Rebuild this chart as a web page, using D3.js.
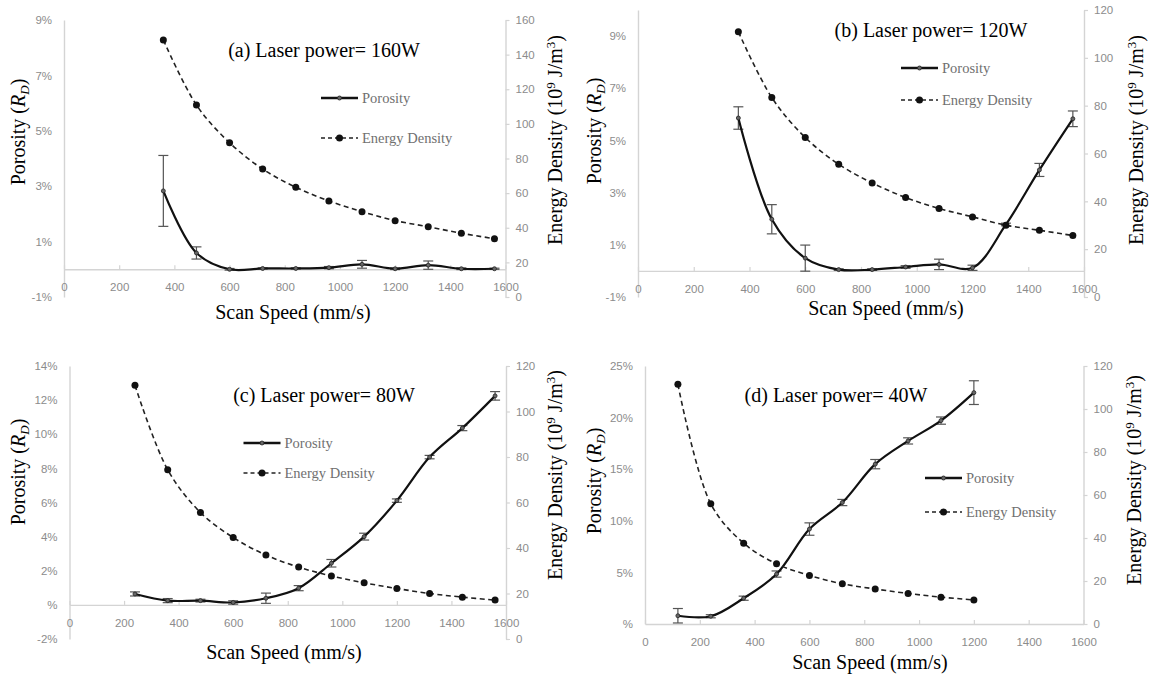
<!DOCTYPE html>
<html>
<head>
<meta charset="utf-8">
<script src="https://cdn.jsdelivr.net/npm/d3@7"></script>
<style>
  body { margin: 0; background: #fff; }
  svg { display: block; }
  .serif { font-family: "Liberation Serif", "Times New Roman", "DejaVu Serif", serif; }
  .sans { font-family: "Liberation Sans", Arial, sans-serif; }
</style>
</head>
<body>
<div class="canvas"></div>
<script>
const width = 1152;
const height = 675;

// scan speed ticks, shared by all four panels
const speedTicks = [0, 200, 400, 600, 800, 1000, 1200, 1400, 1600];

// (a) 160 W
const speedA = [360, 480, 600, 720, 840, 960, 1080, 1200, 1320, 1440, 1560];
const porosityA = [2.83, 0.59, 0.0, 0.03, 0.03, 0.06, 0.18, 0.02, 0.15, 0.02, 0.02];
const errA = [1.28, 0.22, 0.03, 0.02, 0.02, 0.04, 0.14, 0.03, 0.15, 0.03, 0.02];
const energyA = [148.5, 110.9, 89.1, 73.9, 63.4, 55.5, 49.3, 44.1, 40.6, 36.8, 33.7];
const pctTicksA = [-1, 1, 3, 5, 7, 9];
const energyTicksA = [0, 20, 40, 60, 80, 100, 120, 140, 160];

// (b) 120 W
const speedB = [360, 480, 600, 720, 840, 960, 1080, 1200, 1320, 1440, 1560];
const porosityB = [5.86, 1.98, 0.49, 0.05, 0.05, 0.15, 0.25, 0.12, 1.78, 3.87, 5.83];
const errB = [0.43, 0.56, 0.5, 0.03, 0.03, 0.05, 0.2, 0.1, 0.05, 0.25, 0.3];
const energyB = [110.9, 83.4, 66.7, 55.5, 47.7, 41.6, 37.0, 33.5, 30.0, 27.9, 25.7];
const pctTicksB = [-1, 1, 3, 5, 7, 9];
const energyTicksB = [0, 20, 40, 60, 80, 100, 120];

// (c) 80 W
const speedC = [240, 360, 480, 600, 720, 840, 960, 1080, 1200, 1320, 1440, 1560];
const porosityC = [0.64, 0.25, 0.25, 0.14, 0.39, 0.98, 2.44, 4.0, 6.11, 8.66, 10.36, 12.25];
const errC = [0.12, 0.12, 0.08, 0.1, 0.3, 0.15, 0.22, 0.2, 0.1, 0.1, 0.15, 0.25];
const energyC = [111.5, 74.4, 55.6, 44.6, 36.9, 31.6, 27.7, 24.7, 22.2, 20.0, 18.4, 17.1];
const pctTicksC = [-2, 0, 2, 4, 6, 8, 10, 12, 14];
const energyTicksC = [0, 20, 40, 60, 80, 100, 120];

// (d) 40 W
const speedD = [120, 240, 360, 480, 600, 720, 840, 960, 1080, 1200];
const porosityD = [0.8, 0.75, 2.5, 4.84, 9.2, 11.77, 15.49, 17.74, 19.71, 22.42];
const errD = [0.7, 0.15, 0.2, 0.3, 0.6, 0.3, 0.45, 0.3, 0.35, 1.15];
const energyD = [111.5, 55.9, 37.6, 28.0, 22.6, 18.7, 16.3, 14.2, 12.5, 11.2];
const pctTicksD = [0, 5, 10, 15, 20, 25];
const energyTicksD = [0, 20, 40, 60, 80, 100, 120];

const titles = ['(a) Laser power= 160W', '(b) Laser power= 120W', '(c) Laser power= 80W', '(d) Laser power= 40W'];

const axisGrey = '#d4d4d4';
const tickGrey = '#8c8c8c';

const panels = [
  { speed: speedA, porosity: porosityA, err: errA, energy: energyA, pTicks: pctTicksA, eTicks: energyTicksA,
    pDomain: [-1, 9], eDomain: [0, 160], x0: 64, x1: 505.5, yTop: 20, yBot: 297,
    title: titles[0], titleX: 324, titleY: 50, legX: 321, legY: [98, 138],
    xTitleX: 293, xTitleY: 312, pLabelX: 18, pLabelY: 132, eLabelX: 555, eLabelY: 140 },
  { speed: speedB, porosity: porosityB, err: errB, energy: energyB, pTicks: pctTicksB, eTicks: energyTicksB,
    pDomain: [-1, 10], eDomain: [0, 120], x0: 638, x1: 1084, yTop: 10, yBot: 297,
    title: titles[1], titleX: 931, titleY: 30, legX: 901, legY: [68, 100],
    xTitleX: 886, xTitleY: 308, pLabelX: 594, pLabelY: 131, eLabelX: 1136, eLabelY: 140 },
  { speed: speedC, porosity: porosityC, err: errC, energy: energyC, pTicks: pctTicksC, eTicks: energyTicksC,
    pDomain: [-2, 14], eDomain: [0, 120], x0: 69.5, x1: 506, yTop: 366, yBot: 639,
    title: titles[2], titleX: 324, titleY: 395, legX: 243.5, legY: [443, 473],
    xTitleX: 284, xTitleY: 652, pLabelX: 18, pLabelY: 472, eLabelX: 555, eLabelY: 475 },
  { speed: speedD, porosity: porosityD, err: errD, energy: energyD, pTicks: pctTicksD, eTicks: energyTicksD,
    pDomain: [0, 25], eDomain: [0, 120], x0: 645, x1: 1083.5, yTop: 366, yBot: 624,
    title: titles[3], titleX: 836, titleY: 395, legX: 925, legY: [478, 512],
    xTitleX: 870, xTitleY: 662, pLabelX: 594, pLabelY: 481, eLabelX: 1134, eLabelY: 480 }
];

const svg = d3
  .select('.canvas')
  .append('svg')
  .attr('width', width)
  .attr('height', height);

svg.append('rect').attr('width', width).attr('height', height).attr('fill', '#fff');

const pctFormat = (d) => (d === 0 ? '%' : d + '%');
const plainFormat = d3.format('d');

function styleAxis(g) {
  g.attr('font-family', null).attr('class', 'sans').style('font-size', '11.5px');
  g.select('.domain').attr('stroke', axisGrey).attr('stroke-width', 1.4);
  g.selectAll('.tick line').attr('stroke', axisGrey).attr('stroke-width', 1.2);
  g.selectAll('.tick text').attr('fill', tickGrey);
}

function drawPanel(cfg) {
  const x = d3.scaleLinear().domain([0, 1600]).range([cfg.x0, cfg.x1]);
  const yP = d3.scaleLinear().domain(cfg.pDomain).range([cfg.yBot, cfg.yTop]);
  const yE = d3.scaleLinear().domain(cfg.eDomain).range([cfg.yBot, cfg.yTop]);
  const g = svg.append('g');

  // Axes
  g.append('g')
    .attr('transform', `translate(${cfg.x0},0)`)
    .call(d3.axisLeft(yP).tickValues(cfg.pTicks).tickSize(0).tickPadding(12).tickFormat(pctFormat))
    .call(styleAxis);

  g.append('g')
    .attr('transform', `translate(${cfg.x1},0)`)
    .call(d3.axisRight(yE).tickValues(cfg.eTicks).tickSizeInner(4).tickSizeOuter(0).tickPadding(6).tickFormat(plainFormat))
    .call(styleAxis);

  g.append('g')
    .attr('transform', `translate(0,${yP(0)})`)
    .call(d3.axisBottom(x).tickValues(speedTicks).tickSizeInner(-4).tickSizeOuter(0).tickPadding(14).tickFormat(plainFormat))
    .call(styleAxis);

  const pts = cfg.speed.map((s, i) => ({ s, p: cfg.porosity[i], e: cfg.err[i], en: cfg.energy[i] }));

  // Porosity with error bars
  const bars = g.append('g').attr('stroke', '#555').attr('stroke-width', 1.2);
  pts.forEach((d) => {
    const cx = x(d.s);
    const top = yP(d.p + d.e);
    const bot = yP(d.p - d.e);
    bars.append('line').attr('x1', cx).attr('x2', cx).attr('y1', top).attr('y2', bot);
    bars.append('line').attr('x1', cx - 5).attr('x2', cx + 5).attr('y1', top).attr('y2', top);
    bars.append('line').attr('x1', cx - 5).attr('x2', cx + 5).attr('y1', bot).attr('y2', bot);
  });

  const porLine = d3.line().x((d) => x(d.s)).y((d) => yP(d.p)).curve(d3.curveCatmullRom);
  g.append('path')
    .datum(pts)
    .attr('d', porLine)
    .attr('fill', 'none')
    .attr('stroke', '#111')
    .attr('stroke-width', 2.2);

  g.selectAll('circle.por')
    .data(pts)
    .enter()
    .append('circle')
    .attr('class', 'por')
    .attr('cx', (d) => x(d.s))
    .attr('cy', (d) => yP(d.p))
    .attr('r', 2)
    .attr('fill', '#666')
    .attr('stroke', '#222')
    .attr('stroke-width', 0.8);

  // Energy density, dashed
  const enLine = d3.line().x((d) => x(d.s)).y((d) => yE(d.en)).curve(d3.curveCatmullRom);
  g.append('path')
    .datum(pts)
    .attr('d', enLine)
    .attr('fill', 'none')
    .attr('stroke', '#222')
    .attr('stroke-width', 1.6)
    .attr('stroke-dasharray', '5,3.5');

  g.selectAll('circle.en')
    .data(pts)
    .enter()
    .append('circle')
    .attr('class', 'en')
    .attr('cx', (d) => x(d.s))
    .attr('cy', (d) => yE(d.en))
    .attr('r', 3.5)
    .attr('fill', '#111');

  // Legend
  const leg = g.append('g');
  leg.append('line')
    .attr('x1', cfg.legX).attr('x2', cfg.legX + 37)
    .attr('y1', cfg.legY[0]).attr('y2', cfg.legY[0])
    .attr('stroke', '#111').attr('stroke-width', 2.4);
  leg.append('circle')
    .attr('cx', cfg.legX + 18.5).attr('cy', cfg.legY[0]).attr('r', 2)
    .attr('fill', '#666').attr('stroke', '#222').attr('stroke-width', 0.8);
  leg.append('line')
    .attr('x1', cfg.legX).attr('x2', cfg.legX + 37)
    .attr('y1', cfg.legY[1]).attr('y2', cfg.legY[1])
    .attr('stroke', '#222').attr('stroke-width', 1.6).attr('stroke-dasharray', '4,3');
  leg.append('circle')
    .attr('cx', cfg.legX + 18.5).attr('cy', cfg.legY[1]).attr('r', 3.5).attr('fill', '#111');
  leg.selectAll('text')
    .data(['Porosity', 'Energy Density'])
    .enter()
    .append('text')
    .attr('class', 'serif')
    .attr('x', cfg.legX + 41)
    .attr('y', (d, i) => cfg.legY[i])
    .attr('dy', '0.32em')
    .style('font-size', '14.5px')
    .attr('fill', '#707070')
    .text((d) => d);

  // Title and axis titles
  g.append('text')
    .attr('class', 'serif')
    .attr('x', cfg.titleX).attr('y', cfg.titleY).attr('dy', '0.35em')
    .attr('text-anchor', 'middle')
    .style('font-size', '20px').attr('fill', '#000')
    .text(cfg.title);

  g.append('text')
    .attr('class', 'serif')
    .attr('x', cfg.xTitleX).attr('y', cfg.xTitleY).attr('dy', '0.35em')
    .attr('text-anchor', 'middle')
    .style('font-size', '20px').attr('fill', '#000')
    .text('Scan Speed (mm/s)');

  const pl = g.append('text')
    .attr('class', 'serif')
    .attr('transform', `translate(${cfg.pLabelX},${cfg.pLabelY}) rotate(-90)`)
    .attr('dy', '0.35em')
    .attr('text-anchor', 'middle')
    .style('font-size', '20px').attr('fill', '#000');
  pl.append('tspan').text('Porosity (');
  pl.append('tspan').attr('font-style', 'italic').text('R');
  pl.append('tspan').attr('font-style', 'italic').style('font-size', '13px').attr('dy', 4).text('D');
  pl.append('tspan').attr('dy', -4).text(')');

  const el = g.append('text')
    .attr('class', 'serif')
    .attr('transform', `translate(${cfg.eLabelX},${cfg.eLabelY}) rotate(-90)`)
    .attr('dy', '0.35em')
    .attr('text-anchor', 'middle')
    .style('font-size', '20px').attr('fill', '#000');
  el.append('tspan').text('Energy Density (10');
  el.append('tspan').style('font-size', '13px').attr('dy', -7).text('9');
  el.append('tspan').attr('dy', 7).text(' J/m');
  el.append('tspan').style('font-size', '13px').attr('dy', -7).text('3');
  el.append('tspan').attr('dy', 7).text(')');
}

panels.forEach(drawPanel);
</script>
</body>
</html>
